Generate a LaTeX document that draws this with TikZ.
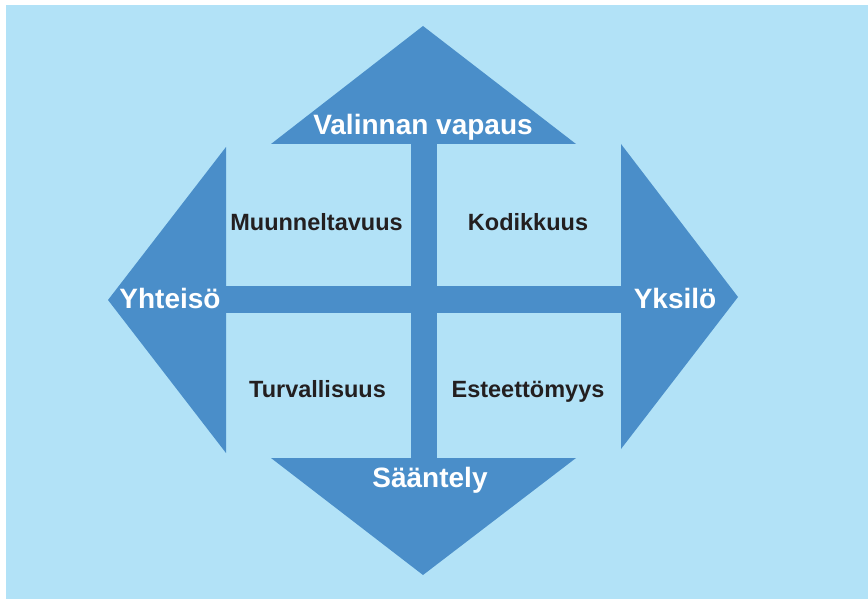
\documentclass[tikz,border=0pt]{standalone}
\usepackage{fontspec}
\setmainfont{Liberation Sans}
\definecolor{paleblue}{RGB}{178,226,247}
\definecolor{midblue}{RGB}{74,142,201}
\definecolor{inkdark}{RGB}{35,31,32}
\begin{document}
\begin{tikzpicture}[x=1pt,y=-1pt,
  shapefill/.style={fill=midblue,draw=none},
  axislabel/.style={anchor=base,text=white,font=\fontsize{28}{32}\selectfont\bfseries,inner sep=0pt},
  quadlabel/.style={anchor=base,text=inkdark,font=\fontsize{23.5}{27}\selectfont\bfseries,inner sep=0pt}]
  % page and backdrop
  \useasboundingbox (0,0) rectangle (868,599);
  \fill[white] (0,0) rectangle (868,599);
  \fill[paleblue] (6,5) rectangle (868,599);
  % cross bars
  \fill[shapefill] (411,144) rectangle (437,458);
  \fill[shapefill] (226,286) rectangle (621,313);
  % four arrow heads
  \fill[shapefill] (271,144) -- (423,26) -- (576,144) -- cycle;
  \fill[shapefill] (271,458) -- (423,575) -- (576,458) -- cycle;
  \fill[shapefill] (226,147) -- (108,300) -- (226,453) -- cycle;
  \fill[shapefill] (621,144) -- (738,297) -- (621,449) -- cycle;
  % axis labels
  \node[axislabel] (vapaus) at (423,135) {Valinnan vapaus};
  \node[axislabel] (saantely) at (430,487) {Sääntely};
  \node[axislabel] (yhteiso) at (170,308) {Yhteisö};
  \node[axislabel] (yksilo) at (675,308) {Yksilö};
  % quadrant labels
  \node[quadlabel] (muunnelt) at (316.5,230) {Muunneltavuus};
  \node[quadlabel] (kodikkuus) at (528,230) {Kodikkuus};
  \node[quadlabel] (turvall) at (317.5,397) {Turvallisuus};
  \node[quadlabel] (esteett) at (528,397) {Esteettömyys};
\end{tikzpicture}
\end{document}
